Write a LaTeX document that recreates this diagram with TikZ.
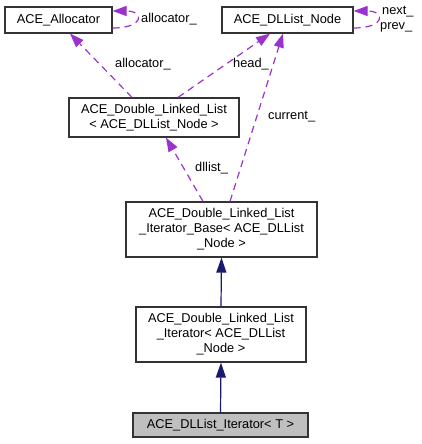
\documentclass[tikz,border=0pt]{standalone}
\usepackage{fontspec}
\setmainfont{Liberation Sans}
\usetikzlibrary{arrows.meta}
\definecolor{deppurple}{HTML}{9A32CD}
\definecolor{inhnavy}{HTML}{191970}
\definecolor{curfill}{HTML}{BFBFBF}
\tikzset{
  cls/.style={draw=black!80, line width=1.2pt, fill=white, inner sep=0pt, align=center,
    font=\fontsize{12.8}{15}\selectfont},
  lbl/.style={inner sep=0pt, font=\fontsize{12.8}{15}\selectfont},
  dep/.style={draw=deppurple, line width=1.2pt, dash pattern=on 7pt off 5pt,
    -{Triangle[length=14pt,width=10pt,fill=deppurple]}},
  inh/.style={draw=inhnavy, line width=1.2pt,
    -{Triangle[length=15pt,width=10pt,fill=inhnavy]}}
}
\begin{document}
\begin{tikzpicture}[x=1pt,y=-1pt]
\useasboundingbox (0,0) rectangle (421,444);
\node[cls, minimum width=107pt, minimum height=26pt] (alloc) at (58.5,20) {ACE\_Allocator};
\node[cls, minimum width=131pt, minimum height=26pt] (dlnode) at (287.5,20) {ACE\_DLList\_Node};
\node[cls, minimum width=170pt, minimum height=39pt] (dll) at (154,117.5) {ACE\_Double\_Linked\_List\\< ACE\_DLList\_Node >};
\node[cls, minimum width=191pt, minimum height=55pt] (base) at (221.5,229.5) {ACE\_Double\_Linked\_List\\\_Iterator\_Base< ACE\_DLList\\\_Node >};
\node[cls, minimum width=170pt, minimum height=55pt] (iter) at (221,334.5) {ACE\_Double\_Linked\_List\\\_Iterator< ACE\_DLList\\\_Node >};
\node[cls, fill=curfill, minimum width=175pt, minimum height=24pt] (dlit) at (220.5,425) {ACE\_DLList\_Iterator< T >};

% inheritance
\draw[inh] (dlit.north) -- (iter.south);
\draw[inh] (iter.north) -- (base.south);

% self loops
\draw[dep] ([yshift=-8pt]alloc.east) .. controls +(32,0) and +(32,0) .. ([yshift=9pt]alloc.east);
\node[lbl, anchor=west] (lalloc1) at (141,19) {allocator\_};
\draw[dep] ([yshift=-8pt]dlnode.east) .. controls +(32,0) and +(32,0) .. ([yshift=9pt]dlnode.east);
\node[lbl, anchor=west] (lnext) at (382,12) {next\_};
\node[lbl, anchor=west] (lprev) at (380,27) {prev\_};

% members
\draw[dep] ([xshift=-22pt]dll.north) -- ([xshift=11.5pt]alloc.south);
\node[lbl, anchor=west] (lalloc2) at (115,64) {allocator\_};
\draw[dep] ([xshift=24pt]dll.north) -- ([xshift=-17.5pt]dlnode.south);
\node[lbl, anchor=west] (lhead) at (233,64) {head\_};
\draw[dep] ([xshift=8.5pt]base.north) -- ([xshift=-4.5pt]dlnode.south);
\node[lbl, anchor=west] (lcur) at (268,117) {current\_};
\draw[dep] ([xshift=-18.5pt]base.north) -- ([xshift=12pt]dll.south);
\node[lbl, anchor=west] (ldll) at (195,168) {dllist\_};
\end{tikzpicture}
\end{document}
